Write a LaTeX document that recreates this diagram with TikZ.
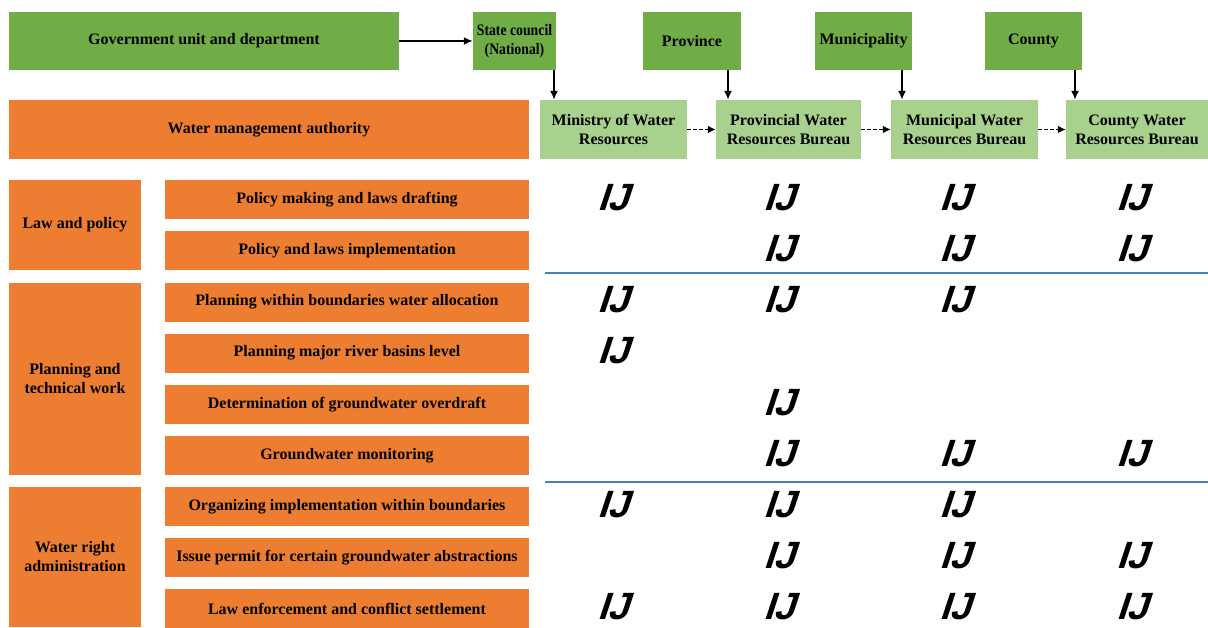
\documentclass[tikz,border=0pt]{standalone}
\usepackage{fontspec}
\setmainfont{Liberation Serif}
\newfontfamily\markfont[FakeSlant=0.33]{Liberation Sans}
\usetikzlibrary{arrows.meta}
\definecolor{gdark}{HTML}{70AD47}
\definecolor{glight}{HTML}{A9D18E}
\definecolor{orng}{HTML}{ED7D31}
\definecolor{blueline}{HTML}{4A7EBB}
\tikzset{
  box/.style={inner sep=1pt, align=center, font=\fontsize{16}{19}\selectfont\bfseries, text=black},
  gbox/.style={box, fill=gdark},
  lbox/.style={box, fill=glight},
  obox/.style={box, fill=orng},
  arr/.style={-{Latex[length=9pt,width=8pt]}, line width=1.6pt},
  darr/.style={-{Latex[length=8pt,width=8pt]}, line width=1.8pt, dash pattern=on 3.5pt off 2.5pt},
  chk/.style={font=\markfont\fontsize{38}{38}\selectfont\bfseries, inner sep=0pt},
  sep/.style={draw=blueline, line width=1.6pt}
}
\begin{document}
\begin{tikzpicture}[x=1pt,y=-1pt]
\useasboundingbox (0,0) rectangle (1208,627);
% top row
\node[gbox, minimum width=390pt, minimum height=58pt] (gov) at (204,41) {Government unit and department};
\node[gbox, minimum width=83pt, minimum height=58pt] (sc) at (514.5,41) {\scalebox{0.86}[1]{State council}\\\scalebox{0.86}[1]{(National)}};
\node[gbox, minimum width=98pt, minimum height=58pt] (prov) at (692,41) {Province};
\node[gbox, minimum width=97pt, minimum height=58pt] (muni) at (863.5,41) {Municipality};
\node[gbox, minimum width=97pt, minimum height=58pt] (cnty) at (1033.5,41) {County};
% second row
\node[obox, minimum width=520pt, minimum height=59pt] (wma) at (269,129.5) {Water management authority};
\node[lbox, minimum width=147pt, minimum height=59pt] (mwr) at (613.5,129.5) {Ministry of Water\\Resources};
\node[lbox, minimum width=145pt, minimum height=59pt] (pwr) at (788.5,129.5) {Provincial Water\\Resources Bureau};
\node[lbox, minimum width=147pt, minimum height=59pt] (mub) at (964.5,129.5) {Municipal Water\\Resources Bureau};
\node[lbox, minimum width=142pt, minimum height=59pt] (cwr) at (1137,129.5) {County Water\\Resources Bureau};
% arrows
\draw[arr] (gov.east) -- (sc.west);
\draw[arr] (sc.south -| 554,0) -- (mwr.north -| 554,0);
\draw[arr] (prov.south -| 728,0) -- (pwr.north -| 728,0);
\draw[arr] (muni.south -| 902,0) -- (mub.north -| 902,0);
\draw[arr] (cnty.south -| 1075,0) -- (cwr.north -| 1075,0);
\draw[darr] (mwr.east) -- (pwr.west);
\draw[darr] (pwr.east) -- (mub.west);
\draw[darr] (mub.east) -- (cwr.west);
% categories
\node[obox, minimum width=132pt, minimum height=90pt] (law) at (75,225) {Law and policy};
\node[obox, minimum width=132pt, minimum height=192pt] (plan) at (75,379) {Planning and\\technical work};
\node[obox, minimum width=132pt, minimum height=140pt] (wra) at (75,557) {Water right\\administration};
% sub rows
\foreach \n/\y/\t in {r1/199.5/Policy making and laws drafting,
  r2/250.5/Policy and laws implementation,
  r3/302/Planning within boundaries water allocation,
  r4/353/Planning major river basins level,
  r5/404.5/Determination of groundwater overdraft,
  r6/455.5/Groundwater monitoring,
  r7/506.5/Organizing implementation within boundaries,
  r8/557.5/Issue permit for certain groundwater abstractions,
  r9/608.5/Law enforcement and conflict settlement}
  \node[obox, minimum width=364pt, minimum height=39pt] (\n) at (347,\y) {\t};
% separators
\coordinate (s1a) at (545,273); \coordinate (s1b) at (1208,273);
\coordinate (s2a) at (545,482); \coordinate (s2b) at (1208,482);
\draw[sep] (s1a) -- (s1b);
\draw[sep] (s2a) -- (s2b);
% marks
\foreach \r/\cols in {r1/{1,2,3,4}, r2/{2,3,4}, r3/{1,2,3}, r4/{1}, r5/{2}, r6/{2,3,4}, r7/{1,2,3}, r8/{2,3,4}, r9/{1,2,3,4}}
  \foreach \c in \cols {
    \ifcase\c\or\def\xx{613}\or\def\xx{779}\or\def\xx{955}\or\def\xx{1132}\fi
    \node[chk, yshift=2pt] (m-\r-\c) at (\xx,0 |- \r) {I\kern-1pt J};
  }
\end{tikzpicture}
\end{document}
